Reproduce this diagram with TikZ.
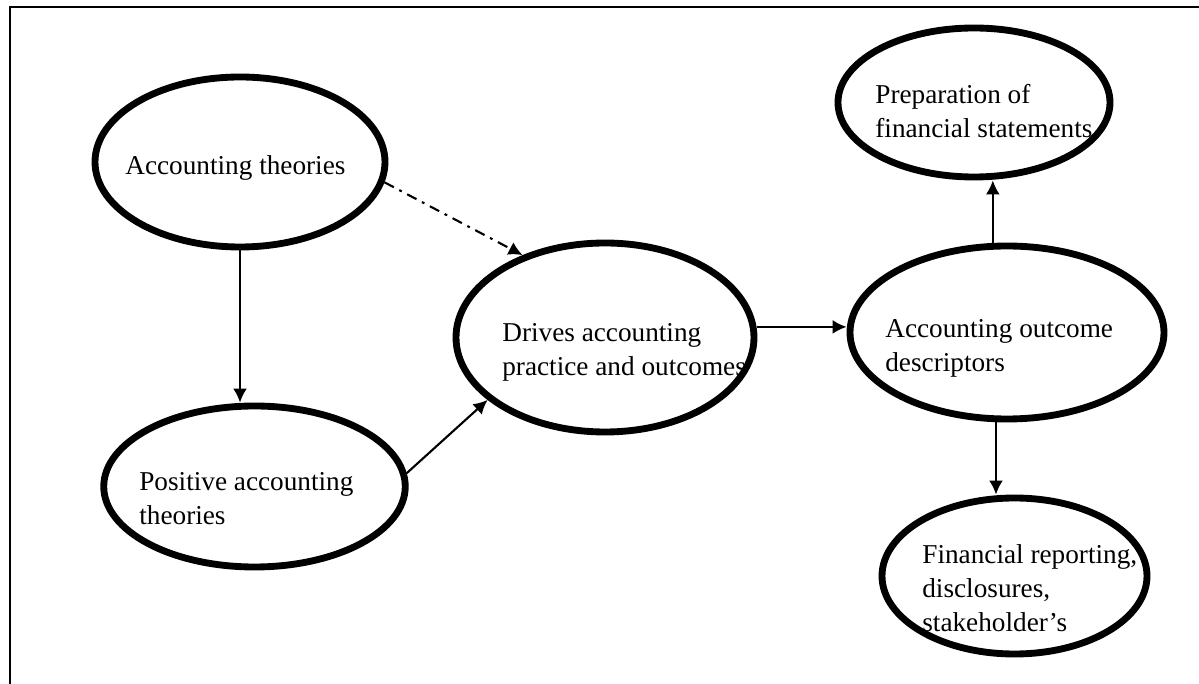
\documentclass[tikz,border=0pt]{standalone}
\usepackage{fontspec}
\setmainfont{Liberation Serif}
\usetikzlibrary{shapes.geometric,arrows.meta}

\begin{document}
\begin{tikzpicture}[
    oval/.style={ellipse, draw=black, line width=3.9pt, inner sep=0pt},
    lbl/.style={anchor=north west, align=left, inner sep=0pt, font=\fontsize{15.5}{19.35}\selectfont},
    arr/.style={-{Latex[length=2.8mm, width=2.8mm]}, line width=1.2pt},
    dashdotline/.style={dash pattern=on 6pt off 3.5pt on 1.6pt off 3.5pt}
]
\useasboundingbox (0,0) rectangle (23.98,13.68);
% Frame
\draw[line width=1.1pt] (0.2,0) |- (23.98,13.54);
% Ellipses
\node[oval, minimum width=5.8cm, minimum height=3.4cm] (theo) at (4.80,10.44) {};
\node[oval, minimum width=6.03cm, minimum height=3.22cm] (pos) at (5.09,3.95) {};
\node[oval, minimum width=5.96cm, minimum height=3.78cm] (drv) at (12.10,6.93) {};
\node[oval, minimum width=6.28cm, minimum height=3.46cm] (out) at (20.14,7.03) {};
\node[oval, minimum width=5.44cm, minimum height=2.98cm] (prep) at (19.48,11.63) {};
\node[oval, minimum width=5.3cm, minimum height=3.12cm] (fin) at (20.29,2.16) {};
% Texts
\node[lbl] (theoT) at (2.50,10.58) {Accounting theories};
\node[lbl] (posT) at (2.78,4.23) {Positive accounting\\theories};
\node[lbl] (drvT) at (10.04,7.21) {Drives accounting\\practice and outcomes};
\node[lbl] (outT) at (17.70,7.29) {Accounting outcome\\descriptors};
\node[lbl] (prepT) at (17.50,12.01) {Preparation of\\financial statements};
\node[lbl] (finT) at (18.44,2.79) {Financial reporting,\\disclosures,\\stakeholder’s};
% Arrows
\draw[arr] (theo.south) -- (theo.south |- pos.north);
\draw[arr, dashdotline] (theo.352) -- (drv.135);
\draw[arr] (pos.5) -- (drv.208);
\draw[arr] (drv.4) -- (drv.4 -| out.west);
\draw[arr] (out.99) -- (out.99 |- prep.south);
\draw[arr] (out.263) -- (out.263 |- fin.north);
\end{tikzpicture}
\end{document}
